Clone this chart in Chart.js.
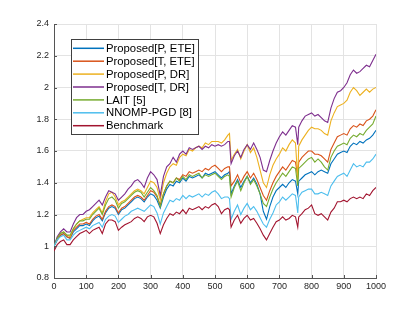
<!DOCTYPE html>
<html>
<head>
<meta charset="utf-8">
<script src="https://cdn.jsdelivr.net/npm/chart.js@4.4.0/dist/chart.umd.min.js"></script>
<style>
  html, body { margin: 0; padding: 0; background: #fff; }
</style>
</head>
<body>
<canvas id="chart" width="415" height="312"></canvas>
<script>
// sample positions (0..1000, with two extra points at the sharp drops)
const steps = [
  0, 10, 20, 30, 40, 50, 60, 70, 80, 90,
  100, 110, 120, 130, 140, 150, 160, 170, 180, 190,
  200, 210, 220, 230, 240, 250, 260, 270, 280, 290,
  300, 310, 320, 330, 340, 350, 360, 370, 380, 390,
  400, 410, 420, 430, 440, 450, 460, 470, 480, 490,
  500, 510, 520, 530, 540, 545,
  550, 560, 570, 580, 590, 600, 610, 620, 630, 640,
  650, 660, 670, 680, 690, 700, 710, 720, 730, 740,
  750, 757,
  760, 770, 780, 790, 800, 810, 820, 830, 840, 850,
  860, 870, 880, 890, 900, 910, 920, 930, 940, 950,
  960, 970, 980, 990, 1000
];

const seriesNames = [
  "Proposed[P, ETE]", "Proposed[T, ETE]", "Proposed[P, DR]", "Proposed[T, DR]",
  "LAIT [5]", "NNOMP-PGD [8]", "Benchmark"
];

const propPETE = [
  1.00, 1.04, 1.07, 1.08, 1.06, 1.05, 1.09, 1.11, 1.13, 1.13,
  1.14, 1.13, 1.16, 1.18, 1.19, 1.16, 1.21, 1.24, 1.25, 1.24,
  1.20, 1.23, 1.24, 1.26, 1.28, 1.30, 1.31, 1.30, 1.28, 1.31,
  1.33, 1.32, 1.29, 1.24, 1.31, 1.36, 1.39, 1.38, 1.41, 1.40,
  1.43, 1.41, 1.44, 1.43, 1.44, 1.45, 1.43, 1.46, 1.45, 1.46,
  1.47, 1.45, 1.43, 1.45, 1.46, 1.47,
  1.33, 1.38, 1.42, 1.37, 1.41, 1.44, 1.40, 1.43, 1.39, 1.33,
  1.22, 1.17, 1.25, 1.31, 1.35, 1.37, 1.39, 1.37, 1.40, 1.42,
  1.41, 1.33,
  1.41, 1.43, 1.45, 1.46, 1.47, 1.45, 1.47, 1.48, 1.47, 1.46,
  1.52, 1.55, 1.58, 1.59, 1.60, 1.59, 1.63, 1.65, 1.64, 1.66,
  1.65, 1.67, 1.68, 1.70, 1.73
];

const propTETE = [
  1.00, 1.04, 1.07, 1.08, 1.06, 1.05, 1.10, 1.12, 1.14, 1.14,
  1.15, 1.14, 1.17, 1.19, 1.20, 1.17, 1.22, 1.25, 1.26, 1.25,
  1.21, 1.24, 1.25, 1.27, 1.29, 1.31, 1.32, 1.31, 1.29, 1.32,
  1.35, 1.34, 1.31, 1.26, 1.33, 1.38, 1.41, 1.40, 1.43, 1.42,
  1.45, 1.44, 1.47, 1.46, 1.47, 1.48, 1.47, 1.49, 1.48, 1.50,
  1.51, 1.49, 1.47, 1.49, 1.50, 1.50,
  1.38, 1.41, 1.45, 1.40, 1.44, 1.47, 1.43, 1.46, 1.42, 1.37,
  1.32, 1.29, 1.35, 1.40, 1.44, 1.47, 1.50, 1.48, 1.51, 1.54,
  1.53, 1.44,
  1.53, 1.56, 1.58, 1.60, 1.60, 1.58, 1.58, 1.57, 1.55, 1.53,
  1.61, 1.65, 1.69, 1.70, 1.71, 1.70, 1.74, 1.76, 1.75, 1.77,
  1.76, 1.79, 1.80, 1.82, 1.86
];

const propPDR = [
  1.00, 1.05, 1.08, 1.09, 1.07, 1.06, 1.11, 1.14, 1.16, 1.17,
  1.18, 1.18, 1.21, 1.23, 1.25, 1.21, 1.28, 1.33, 1.34, 1.31,
  1.26, 1.28, 1.29, 1.31, 1.33, 1.35, 1.36, 1.35, 1.33, 1.37,
  1.41, 1.40, 1.37, 1.29, 1.40, 1.46, 1.50, 1.52, 1.51, 1.56,
  1.58, 1.57, 1.61, 1.60, 1.62, 1.63, 1.62, 1.65, 1.64, 1.66,
  1.66, 1.66, 1.65, 1.67, 1.70, 1.71,
  1.54, 1.58, 1.61, 1.55, 1.60, 1.64, 1.59, 1.62, 1.56, 1.48,
  1.40, 1.37, 1.45, 1.51, 1.55, 1.58, 1.62, 1.60, 1.64, 1.67,
  1.65, 1.42,
  1.63, 1.67, 1.70, 1.73, 1.75, 1.74, 1.74, 1.73, 1.71, 1.70,
  1.79, 1.84, 1.88, 1.89, 1.90, 1.92, 1.97, 2.00, 1.98, 1.95,
  1.97, 1.99, 1.97, 1.99, 2.00
];

const propTDR = [
  1.00, 1.06, 1.09, 1.11, 1.09, 1.09, 1.14, 1.18, 1.20, 1.20,
  1.22, 1.23, 1.25, 1.27, 1.29, 1.26, 1.31, 1.35, 1.34, 1.33,
  1.29, 1.31, 1.33, 1.36, 1.38, 1.41, 1.42, 1.40, 1.37, 1.43,
  1.47, 1.45, 1.42, 1.32, 1.44, 1.50, 1.52, 1.56, 1.53, 1.58,
  1.60, 1.58, 1.62, 1.61, 1.62, 1.63, 1.61, 1.63, 1.62, 1.64,
  1.63, 1.64, 1.63, 1.64, 1.66, 1.66,
  1.52, 1.57, 1.60, 1.56, 1.61, 1.64, 1.61, 1.65, 1.61, 1.56,
  1.48, 1.47, 1.54, 1.60, 1.65, 1.69, 1.72, 1.70, 1.73, 1.76,
  1.75, 1.64,
  1.75, 1.79, 1.82, 1.83, 1.84, 1.82, 1.83, 1.81, 1.79, 1.78,
  1.87, 1.93, 1.97, 1.98, 2.00, 2.03, 2.08, 2.11, 2.09, 2.10,
  2.12, 2.14, 2.13, 2.17, 2.21
];

const lait = [
  1.00, 1.05, 1.08, 1.09, 1.07, 1.07, 1.11, 1.14, 1.16, 1.16,
  1.17, 1.17, 1.20, 1.22, 1.24, 1.20, 1.26, 1.30, 1.31, 1.29,
  1.24, 1.27, 1.28, 1.30, 1.32, 1.34, 1.35, 1.34, 1.31, 1.34,
  1.37, 1.35, 1.32, 1.25, 1.33, 1.38, 1.41, 1.40, 1.43, 1.41,
  1.44, 1.42, 1.45, 1.44, 1.45, 1.46, 1.43, 1.45, 1.44, 1.45,
  1.46, 1.44, 1.42, 1.44, 1.45, 1.44,
  1.31, 1.37, 1.41, 1.35, 1.40, 1.44, 1.39, 1.42, 1.38, 1.33,
  1.27, 1.25, 1.31, 1.36, 1.40, 1.43, 1.46, 1.44, 1.47, 1.50,
  1.49, 1.38,
  1.49, 1.51, 1.53, 1.55, 1.56, 1.53, 1.55, 1.53, 1.50, 1.48,
  1.56, 1.60, 1.63, 1.64, 1.65, 1.64, 1.68, 1.70, 1.69, 1.71,
  1.70, 1.73, 1.75, 1.77, 1.82
];

const nnomp = [
  1.00, 1.04, 1.06, 1.07, 1.04, 1.04, 1.07, 1.09, 1.10, 1.11,
  1.12, 1.11, 1.13, 1.14, 1.15, 1.12, 1.17, 1.19, 1.20, 1.19,
  1.15, 1.17, 1.19, 1.20, 1.22, 1.23, 1.24, 1.23, 1.22, 1.24,
  1.26, 1.25, 1.21, 1.14, 1.21, 1.25, 1.29, 1.28, 1.30, 1.29,
  1.32, 1.30, 1.32, 1.31, 1.32, 1.33, 1.31, 1.33, 1.32, 1.34,
  1.35, 1.33, 1.30, 1.31, 1.31, 1.30,
  1.17, 1.22, 1.26, 1.20, 1.24, 1.27, 1.23, 1.25, 1.22, 1.18,
  1.14, 1.12, 1.17, 1.21, 1.26, 1.28, 1.31, 1.29, 1.31, 1.33,
  1.32, 1.21,
  1.31, 1.34, 1.35, 1.36, 1.36, 1.33, 1.33, 1.34, 1.33, 1.32,
  1.38, 1.41, 1.44, 1.45, 1.46, 1.44, 1.48, 1.52, 1.50, 1.51,
  1.50, 1.53, 1.53, 1.55, 1.58
];

const benchmark = [
  0.97, 1.01, 1.03, 1.04, 1.01, 1.01, 1.04, 1.06, 1.08, 1.09,
  1.10, 1.08, 1.10, 1.11, 1.12, 1.08, 1.14, 1.165, 1.165, 1.155,
  1.10, 1.12, 1.135, 1.145, 1.155, 1.175, 1.185, 1.175, 1.155, 1.185,
  1.195, 1.185, 1.145, 1.08, 1.135, 1.175, 1.205, 1.195, 1.215, 1.205,
  1.23, 1.205, 1.24, 1.23, 1.24, 1.25, 1.23, 1.25, 1.24, 1.26,
  1.27, 1.25, 1.205, 1.23, 1.24, 1.23,
  1.12, 1.165, 1.195, 1.145, 1.175, 1.195, 1.165, 1.175, 1.145, 1.11,
  1.07, 1.04, 1.08, 1.12, 1.155, 1.165, 1.185, 1.165, 1.175, 1.195,
  1.185, 1.12,
  1.185, 1.205, 1.23, 1.24, 1.26, 1.205, 1.195, 1.205, 1.185, 1.165,
  1.215, 1.24, 1.28, 1.28, 1.29, 1.28, 1.30, 1.31, 1.30, 1.31,
  1.30, 1.33, 1.32, 1.35, 1.37
];

const xTicks = [0, 100, 200, 300, 400, 500, 600, 700, 800, 900, 1000];
const yTicks = [0.8, 1, 1.2, 1.4, 1.6, 1.8, 2, 2.2, 2.4];

// MATLAB default line colours
const colors = ["#0072BD", "#D95319", "#EDB120", "#7E2F8E", "#77AC30", "#4DBEEE", "#A2142F"];
const allSeries = [propPETE, propTETE, propPDR, propTDR, lait, nnomp, benchmark];

const datasets = allSeries.map((vals, i) => ({
  label: seriesNames[i],
  data: vals.map((v, j) => ({ x: steps[j], y: v })),
  borderColor: colors[i],
  backgroundColor: colors[i],
  borderWidth: 1.1,
  pointRadius: 0,
  tension: 0,
  order: allSeries.length - i   // later series on top, like MATLAB
}));

const axisColor = "#555555";
const gridColor = "#e3e3e3";
const tickFont = { family: "Liberation Sans, Arial, sans-serif", size: 9 };

// small tick marks pointing into the plot area
const insideTicks = {
  id: "insideTicks",
  afterDraw(chart) {
    const ctx = chart.ctx;
    const xs = chart.scales.x, ys = chart.scales.y;
    const a = chart.chartArea;
    ctx.save();
    ctx.strokeStyle = axisColor;
    ctx.lineWidth = 1;
    ctx.beginPath();
    xTicks.forEach(t => {
      const px = Math.round(xs.getPixelForValue(t)) + 0.5;
      ctx.moveTo(px, a.bottom);
      ctx.lineTo(px, a.bottom - 3);
    });
    yTicks.forEach(t => {
      const py = Math.round(ys.getPixelForValue(t)) + 0.5;
      ctx.moveTo(a.left, py);
      ctx.lineTo(a.left + 3, py);
    });
    ctx.stroke();
    ctx.restore();
  }
};

// boxed legend in the upper left of the plot
const boxLegend = {
  id: "boxLegend",
  afterDraw(chart) {
    const ctx = chart.ctx;
    const a = chart.chartArea;
    const left = a.left + 17, top = a.top + 15;
    const w = 127, rowH = 12.9, h = 95;
    ctx.save();
    ctx.fillStyle = "#ffffff";
    ctx.fillRect(left, top, w, h);
    ctx.strokeStyle = "#404040";
    ctx.lineWidth = 1;
    ctx.strokeRect(left + 0.5, top + 0.5, w, h);
    ctx.font = "11.3px Liberation Sans, Arial, sans-serif";
    ctx.textBaseline = "middle";
    chart.data.datasets.forEach((ds, i) => {
      const cy = top + 9.3 + i * rowH;
      ctx.strokeStyle = ds.borderColor;
      ctx.lineWidth = 1.5;
      ctx.beginPath();
      ctx.moveTo(left + 2, cy);
      ctx.lineTo(left + 33, cy);
      ctx.stroke();
      ctx.fillStyle = "#000000";
      ctx.fillText(ds.label, left + 35, cy + 0.5);
    });
    ctx.restore();
  }
};

new Chart(document.getElementById("chart"), {
  type: "line",
  data: { datasets: datasets },
  options: {
    responsive: false,
    animation: false,
    layout: { padding: { left: 0, top: 24, right: 39, bottom: 0 } },
    plugins: {
      legend: { display: false },
      tooltip: { enabled: false }
    },
    scales: {
      x: {
        type: "linear",
        min: 0,
        max: 1000,
        afterBuildTicks: s => { s.ticks = xTicks.map(v => ({ value: v })); },
        afterFit: s => { s.height = 34; },
        ticks: {
          font: tickFont, color: "#262626", padding: 3, maxRotation: 0,
          callback: v => String(v)
        },
        grid: { color: gridColor, drawTicks: false },
        border: { color: axisColor, width: 1 }
      },
      y: {
        type: "linear",
        min: 0.8,
        max: 2.4,
        afterBuildTicks: s => { s.ticks = yTicks.map(v => ({ value: v })); },
        afterFit: s => { s.width = 54; },
        ticks: {
          font: tickFont, color: "#262626", padding: 5,
          callback: v => String(+v.toFixed(1))
        },
        grid: { color: gridColor, drawTicks: false },
        border: { color: axisColor, width: 1 }
      }
    }
  },
  plugins: [insideTicks, boxLegend]
});
</script>
</body>
</html>
